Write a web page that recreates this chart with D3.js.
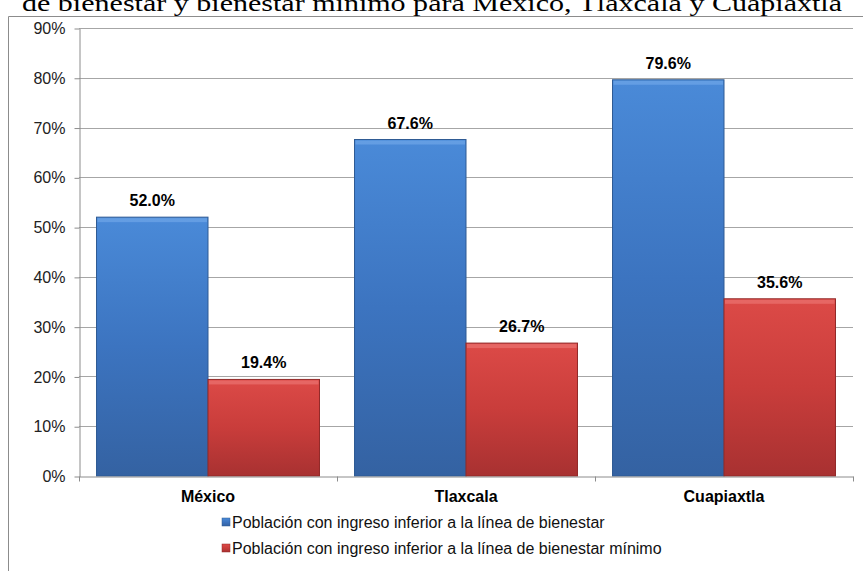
<!DOCTYPE html>
<html>
<head>
<meta charset="utf-8">
<script src="https://cdn.jsdelivr.net/npm/d3@7"></script>
<style>
  body { margin: 0; background: #fff; }
  svg { display: block; }
</style>
</head>
<body>
<svg id="chart" width="863" height="571"></svg>
<script>
// datos del grafico
var categorias = ["México", "Tlaxcala", "Cuapiaxtla"];
var series = ["Población con ingreso inferior a la línea de bienestar",
              "Población con ingreso inferior a la línea de bienestar mínimo"];
var bienestar = [52.0, 67.6, 79.6];
var bienestarMinimo = [19.4, 26.7, 35.6];
var ticksY = [0, 10, 20, 30, 40, 50, 60, 70, 80, 90];
var titulo = "de bienestar y bienestar mínimo para México, Tlaxcala y Cuapiaxtla";

var w = 863, h = 571;
var mLeft = 79, mRight = 853, mTop = 28, mBottom = 476;
var fuente = "Arial, 'Liberation Sans', sans-serif";

var svg = d3.select("#chart");

// gradientes de las barras
var defs = svg.append("defs");
var colores = [["#4a8ad8", "#3c74c0", "#3462a2"], ["#dc4a47", "#c93d3b", "#a83131"]];
colores.forEach(function(c, i) {
    var g = defs.append("linearGradient").attr("id", "grad" + i)
        .attr("x1", 0).attr("y1", 0).attr("x2", 0).attr("y2", 1);
    g.append("stop").attr("offset", "0%").attr("stop-color", c[0]);
    g.append("stop").attr("offset", "50%").attr("stop-color", c[1]);
    g.append("stop").attr("offset", "100%").attr("stop-color", c[2]);
});

// titulo (cortado arriba)
svg.append("text")
    .attr("x", 432).attr("y", 11)
    .attr("text-anchor", "middle")
    .style("font-family", "'Liberation Serif', 'Times New Roman', serif")
    .style("font-size", "24px")
    .attr("textLength", 820)
    .attr("lengthAdjust", "spacingAndGlyphs")
    .text(titulo);

// marco del grafico
svg.append("path")
    .attr("d", "M8.5," + h + " V16.5 H" + w)
    .attr("fill", "none").attr("stroke", "#8c8c8c").attr("stroke-width", 1);

// escalas
var xScale = d3.scaleBand().domain(categorias).range([mLeft, mRight]).paddingInner(0).paddingOuter(0);
var xSub = d3.scaleBand().domain([0, 1]).range([0, xScale.bandwidth()]).paddingOuter(0.157).paddingInner(0);
var yScale = d3.scaleLinear().domain([0, 90]).range([mBottom, mTop]);

// cuadricula
svg.append("g").selectAll("line")
    .data(ticksY.slice(1))
    .enter().append("line")
    .attr("x1", mLeft).attr("x2", mRight)
    .attr("y1", function(d) { return Math.round(yScale(d)) + 0.5; })
    .attr("y2", function(d) { return Math.round(yScale(d)) + 0.5; })
    .attr("stroke", "#a6a6a6").attr("stroke-width", 1);

// eje y
var yAxis = d3.axisLeft(yScale).tickValues(ticksY)
    .tickFormat(function(d) { return d + "%"; })
    .tickSizeInner(5).tickSizeOuter(0).tickPadding(9);
var gy = svg.append("g").attr("transform", "translate(" + (mLeft + 0.5) + ",0.5)").call(yAxis);
gy.selectAll("path, line").attr("stroke", "#8c8c8c");
gy.selectAll("text").style("font-family", fuente)
    .style("font-size", "16px").attr("fill", "#222");

// barras
var datos = [];
categorias.forEach(function(c, i) {
    datos.push({cat: c, s: 0, v: bienestar[i]});
    datos.push({cat: c, s: 1, v: bienestarMinimo[i]});
});

var barras = svg.append("g").selectAll("g").data(datos).enter().append("g");

barras.append("rect")
    .attr("x", function(d) { return xScale(d.cat) + xSub(d.s); })
    .attr("y", function(d) { return yScale(d.v); })
    .attr("width", xSub.bandwidth())
    .attr("height", function(d) { return mBottom - yScale(d.v); })
    .attr("fill", function(d) { return "url(#grad" + d.s + ")"; })
    .attr("stroke", function(d) { return d.s == 0 ? "#2f5b94" : "#922a29"; })
    .attr("stroke-width", 1);

// bisel superior
barras.append("rect")
    .attr("x", function(d) { return xScale(d.cat) + xSub(d.s) + 1; })
    .attr("y", function(d) { return yScale(d.v) + 1; })
    .attr("width", xSub.bandwidth() - 2)
    .attr("height", 4)
    .attr("fill", function(d) { return d.s == 0 ? "#6aa3e6" : "#e86e6b"; })
    .attr("opacity", 0.8);

// etiquetas de valores
barras.append("text")
    .attr("x", function(d) { return xScale(d.cat) + xSub(d.s) + xSub.bandwidth() / 2; })
    .attr("y", function(d) { return yScale(d.v) - 11; })
    .attr("text-anchor", "middle")
    .style("font-family", fuente)
    .style("font-size", "16px").style("font-weight", "bold")
    .text(function(d) { return d.v.toFixed(1) + "%"; });

// eje x
var xAxis = d3.axisBottom(xScale).tickSize(0).tickPadding(14);
var gx = svg.append("g").attr("transform", "translate(0," + (mBottom + 0.5) + ")").call(xAxis);
gx.select("path").attr("stroke", "#8c8c8c");
gx.selectAll("text").style("font-family", fuente)
    .style("font-size", "16px").style("font-weight", "bold").attr("fill", "#000");
// marcas entre categorias
gx.selectAll(".sep").data(d3.range(4)).enter().append("line")
    .attr("x1", function(d) { return mLeft + 0.5 + d * xScale.bandwidth(); })
    .attr("x2", function(d) { return mLeft + 0.5 + d * xScale.bandwidth(); })
    .attr("y1", 0).attr("y2", 5).attr("stroke", "#8c8c8c");

// leyenda
var leyenda = svg.append("g").selectAll("g").data(series).enter().append("g")
    .attr("transform", function(d, i) { return "translate(222," + (528 + i * 26) + ")"; });
leyenda.append("rect")
    .attr("x", 0).attr("y", -10).attr("width", 8).attr("height", 8)
    .attr("fill", function(d, i) { return "url(#grad" + i + ")"; })
    .attr("stroke", function(d, i) { return i == 0 ? "#2f5b94" : "#922a29"; })
    .attr("stroke-width", 0.5);
leyenda.append("text")
    .attr("x", 10).attr("y", 0)
    .style("font-family", fuente)
    .style("font-size", "16px").attr("fill", "#111")
    .text(function(d) { return d; });
</script>
</body>
</html>
